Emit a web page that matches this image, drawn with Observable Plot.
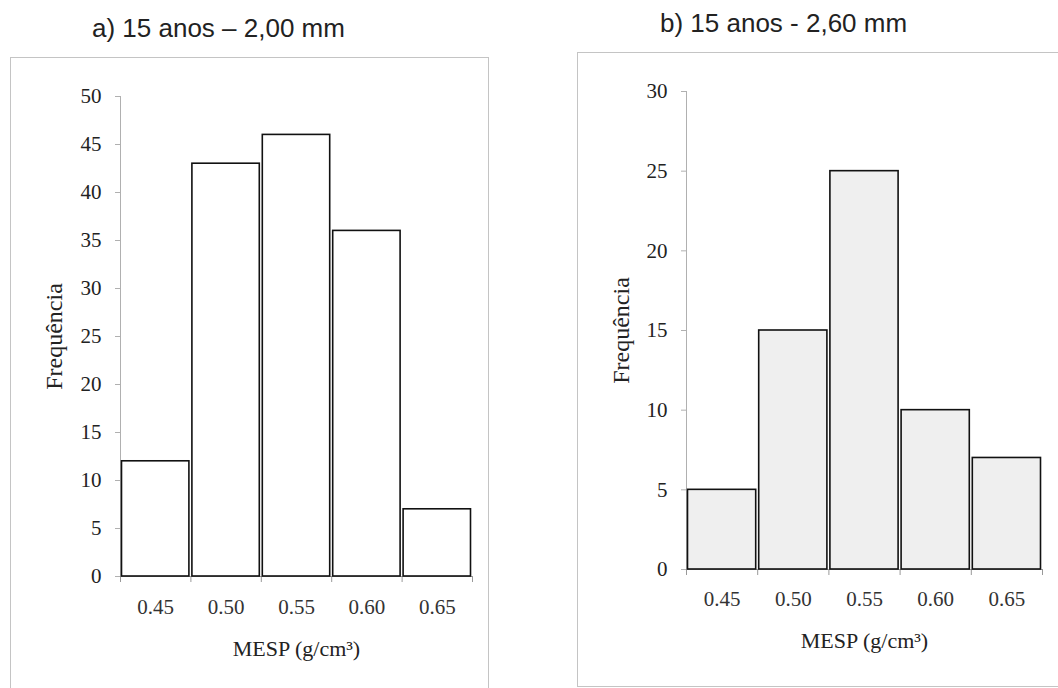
<!DOCTYPE html>
<html>
<head>
<meta charset="utf-8">
<script src="https://cdn.jsdelivr.net/npm/d3@7"></script>
<script src="https://cdn.jsdelivr.net/npm/@observablehq/plot@0.6"></script>
<style>
  html, body { margin: 0; padding: 0; background: #fff; width: 1058px; height: 688px; overflow: hidden; }
  .box { position: absolute; border: 1px solid #c4c4c4; box-sizing: border-box; }
  .title { position: absolute; font-family: "Liberation Sans", Arial, sans-serif; font-size: 26px; line-height: 26px; color: #222; white-space: nowrap; }
  .plot { position: absolute; }
</style>
</head>
<body>
<div class="box" style="left:10px; top:57px; width:479px; height:640px;"></div>
<div class="box" style="left:577px; top:52px; width:500px; height:635px;"></div>
<div class="title" style="left:92px; top:15px;">a) 15 anos – 2,00 mm</div>
<div class="title" style="left:660px; top:10px;">b) 15 anos - 2,60 mm</div>
<div id="pa" class="plot" style="left:10px; top:57px;"></div>
<div id="pb" class="plot" style="left:577px; top:52px;"></div>
<script>
// Data
const mespBins = [0.45, 0.50, 0.55, 0.60, 0.65];
const binEdges = [0.425, 0.475, 0.525, 0.575, 0.625, 0.675];
const freqA = [12, 43, 46, 36, 7];
const freqB = [5, 15, 25, 10, 7];
const yTicksA = [0, 5, 10, 15, 20, 25, 30, 35, 40, 45, 50];
const yTicksB = [0, 5, 10, 15, 20, 25, 30];
const halfWidth = 0.025;

function panel(freq, yTicks, yMax, geom, fill) {
  const data = mespBins.map((c, i) => ({c, f: freq[i]}));
  return Plot.plot({
    width: geom.width,
    height: geom.height,
    marginLeft: geom.ml,
    marginRight: geom.mr,
    marginTop: geom.mt,
    marginBottom: geom.mb,
    style: {fontFamily: "'Liberation Serif', 'Times New Roman', serif", fontSize: "21px", color: "#222", background: "transparent", overflow: "visible"},
    x: {domain: [binEdges[0], binEdges[binEdges.length - 1]], axis: null},
    y: {domain: [0, yMax], axis: null},
    marks: [
      Plot.ruleX([binEdges[0]], {stroke: "#b0b0b0", strokeWidth: 1}),
      Plot.axisY({ticks: yTicks, tickSize: 5, tickPadding: 14, stroke: "#b0b0b0", fill: "#222", fontSize: 21, label: null}),
      Plot.ruleY([0], {stroke: "#999", strokeWidth: 1}),
      Plot.axisX({ticks: binEdges, tickSize: 6, tickFormat: () => "", stroke: "#999", label: null}),
      Plot.rectY(data, {x1: d => d.c - halfWidth, x2: d => d.c + halfWidth, y1: 0, y2: "f", insetLeft: 1.5, insetRight: 1.5, fill: fill, stroke: "#111", strokeWidth: 1.6}),
      Plot.text(mespBins, {x: d => d, y: 0, dy: geom.tickDy, text: d => d.toFixed(2), fontSize: 21, fill: "#333", lineAnchor: "middle"}),
      Plot.text(["Frequência"], {frameAnchor: "left", dx: geom.ylabDx, rotate: -90, fontSize: 24, fill: "#222", textAnchor: "middle", lineAnchor: "middle"}),
      Plot.text(["MESP (g/cm³)"], {frameAnchor: "bottom", dy: geom.xlabDy, fontSize: 22, fill: "#222", textAnchor: "middle", lineAnchor: "middle"})
    ]
  });
}

document.getElementById("pa").appendChild(
  panel(freqA, yTicksA, 50, {width: 478, height: 630, ml: 110, mr: 16, mt: 39, mb: 111, tickDy: 31, ylabDx: -66, xlabDy: 72}, "#ffffff")
);
document.getElementById("pb").appendChild(
  panel(freqB, yTicksB, 30, {width: 481, height: 634, ml: 109, mr: 16, mt: 39, mb: 117, tickDy: 30, ylabDx: -65, xlabDy: 71}, "#efefef")
);
</script>
</body>
</html>
